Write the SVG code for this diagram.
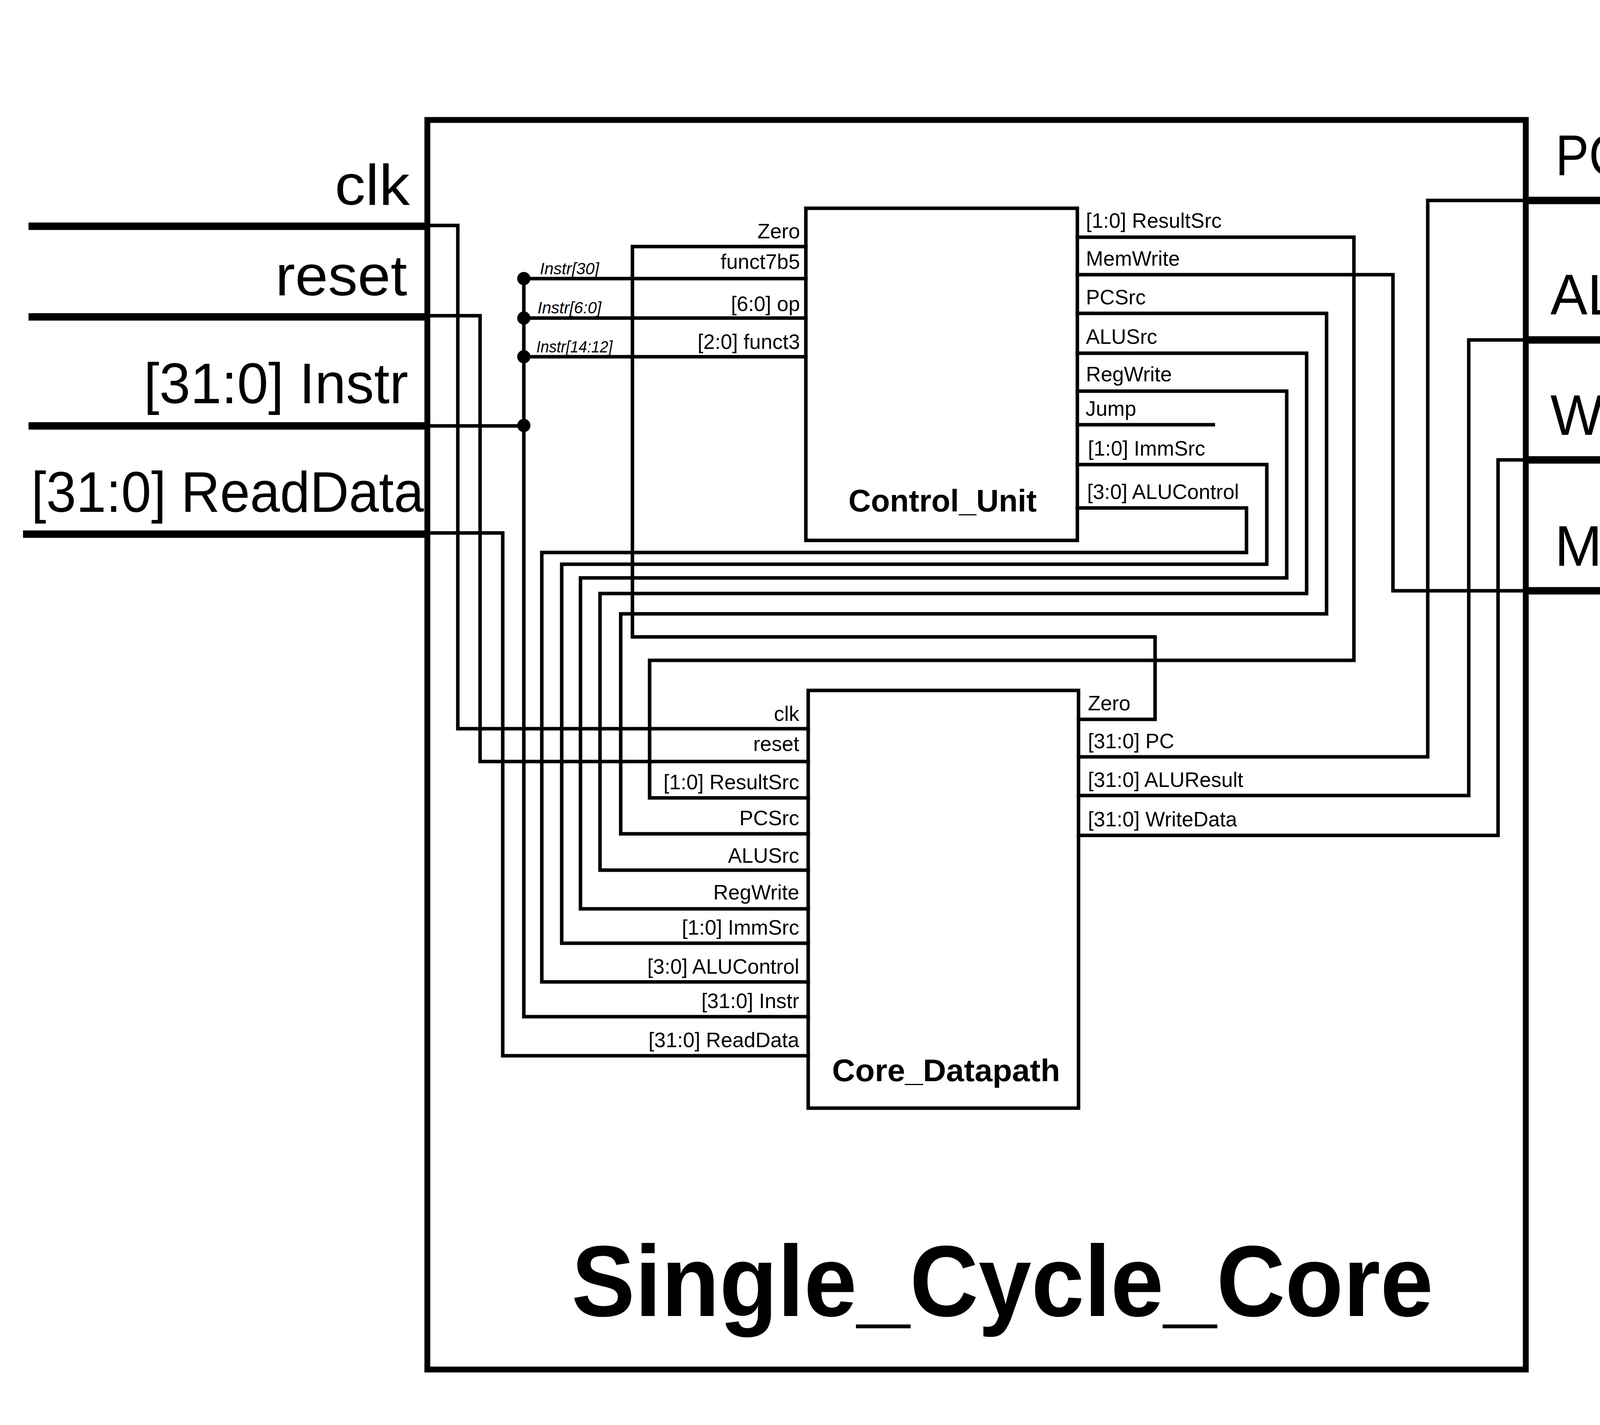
<svg xmlns="http://www.w3.org/2000/svg" width="5173" height="3647" viewBox="0 0 5173 3647">
<style>
.w{fill:none;stroke:#000;stroke-width:9;stroke-linejoin:miter;stroke-linecap:square}
.io{fill:none;stroke:#000;stroke-width:19;stroke-linecap:butt}
.box{fill:none;stroke:#000;stroke-width:9}
.outer{fill:none;stroke:#000;stroke-width:15}
.big{font-family:"Liberation Sans",Arial,sans-serif;font-size:147px;fill:#000}
.lbl{font-family:"Liberation Sans",Arial,sans-serif;font-size:53px;fill:#000}
.it{font-family:"Liberation Sans",Arial,sans-serif;font-size:42px;font-style:italic;fill:#000}
.bold{font-family:"Liberation Sans",Arial,sans-serif;font-weight:bold;fill:#000}
.e{text-anchor:end}
</style>
<rect width="5173" height="3647" fill="#fff"/>

<g id="Single_Cycle_Core">
<rect class="outer" x="1094" y="307" width="2812" height="3198"/>
<text class="bold" x="1463" y="3368" font-size="258" textLength="2206" lengthAdjust="spacingAndGlyphs">Single_Cycle_Core</text>
</g>

<g id="ports_in">
<text class="big" x="857" y="524" textLength="192" lengthAdjust="spacingAndGlyphs">clk</text>
<text class="big" x="705" y="756" textLength="337" lengthAdjust="spacingAndGlyphs">reset</text>
<text class="big" x="368" y="1032" textLength="677" lengthAdjust="spacingAndGlyphs">[31:0] Instr</text>
<text class="big" x="80" y="1310" textLength="1005" lengthAdjust="spacingAndGlyphs">[31:0] ReadData</text>
</g>

<g id="ports_out">
<text class="big" x="3982" y="448" textLength="534" lengthAdjust="spacingAndGlyphs">PC [31:0]</text>
<text class="big" x="3969" y="805" textLength="1076" lengthAdjust="spacingAndGlyphs">ALUResult [31:0]</text>
<text class="big" x="3969" y="1113" textLength="1033" lengthAdjust="spacingAndGlyphs">WriteData [31:0]</text>
<text class="big" x="3980" y="1448" textLength="662" lengthAdjust="spacingAndGlyphs">MemWrite</text>
</g>

<g id="Control_Unit">
<rect class="box" x="2063" y="533" width="695" height="850"/>
<text class="bold" x="2172" y="1309" font-size="80" textLength="482" lengthAdjust="spacingAndGlyphs">Control_Unit</text>
<text class="lbl e" x="2048" y="610">Zero</text>
<text class="lbl e" x="2048" y="688">funct7b5</text>
<text class="lbl e" x="2048" y="796">[6:0] op</text>
<text class="lbl e" x="2048" y="893">[2:0] funct3</text>
<text class="lbl" x="2780" y="583">[1:0] ResultSrc</text>
<text class="lbl" x="2780" y="680">MemWrite</text>
<text class="lbl" x="2780" y="779">PCSrc</text>
<text class="lbl" x="2780" y="880">ALUSrc</text>
<text class="lbl" x="2780" y="976">RegWrite</text>
<text class="lbl" x="2779" y="1064">Jump</text>
<text class="lbl" x="2785" y="1166">[1:0] ImmSrc</text>
<text class="lbl" x="2783" y="1277">[3:0] ALUControl</text>
</g>

<g id="Core_Datapath">
<rect class="box" x="2069" y="1767" width="692" height="1069"/>
<text class="bold" x="2130" y="2767" font-size="80" textLength="584" lengthAdjust="spacingAndGlyphs">Core_Datapath</text>
<text class="lbl e" x="2046" y="1845">clk</text>
<text class="lbl e" x="2046" y="1922">reset</text>
<text class="lbl e" x="2046" y="2020">[1:0] ResultSrc</text>
<text class="lbl e" x="2046" y="2112">PCSrc</text>
<text class="lbl e" x="2046" y="2208">ALUSrc</text>
<text class="lbl e" x="2046" y="2302">RegWrite</text>
<text class="lbl e" x="2046" y="2392">[1:0] ImmSrc</text>
<text class="lbl e" x="2046" y="2492">[3:0] ALUControl</text>
<text class="lbl e" x="2046" y="2580">[31:0] Instr</text>
<text class="lbl e" x="2046" y="2680">[31:0] ReadData</text>
<text class="lbl" x="2785" y="1818">Zero</text>
<text class="lbl" x="2785" y="1915">[31:0] PC</text>
<text class="lbl" x="2785" y="2014">[31:0] ALUResult</text>
<text class="lbl" x="2785" y="2115">[31:0] WriteData</text>
</g>

<g id="connectors">
<path class="io" d="M73 579H1094M73 811H1094M73 1090H1094M59 1367H1094"/>
<path class="io" d="M3906 513H5090M3906 870H5090M3906 1177H5090M3906 1512H5090"/>
<path class="w" d="M1094 577H1172V1865H2069"/>
<path class="w" d="M1094 808H1229V1949H2069"/>
<path class="w" d="M1094 1090H1341"/>
<path class="w" d="M1341 713V2602H2069"/>
<path class="w" d="M1094 1364H1287V2702H2069"/>
<path class="w" d="M1341 713H2063"/>
<path class="w" d="M1341 814H2063"/>
<path class="w" d="M1341 913H2063"/>
<path class="w" d="M2063 631H1619V1630H2957V1841H2761"/>
<path class="w" d="M2758 607H3466V1690H1663V2042H2069"/>
<path class="w" d="M2758 703H3566V1512H3906"/>
<path class="w" d="M2758 802H3396V1571H1589V2134H2069"/>
<path class="w" d="M2758 904H3345V1519H1536V2227H2069"/>
<path class="w" d="M2758 1001H3294V1479H1486V2326H2069"/>
<path class="w" d="M2758 1087H3106"/>
<path class="w" d="M2758 1189H3243V1444H1438V2414H2069"/>
<path class="w" d="M2758 1300H3191V1414H1387V2513H2069"/>
<path class="w" d="M2761 1937H3655V513H3906"/>
<path class="w" d="M2761 2036H3760V870H3906"/>
<path class="w" d="M2761 2138H3835V1177H3906"/>
<g fill="#000">
<circle cx="1341" cy="713" r="17"/>
<circle cx="1341" cy="814" r="17"/>
<circle cx="1341" cy="913" r="17"/>
<circle cx="1341" cy="1089" r="17"/>
</g>
<text class="it" x="1382" y="702">Instr[30]</text>
<text class="it" x="1376" y="802">Instr[6:0]</text>
<text class="it" x="1373" y="902" textLength="195" lengthAdjust="spacingAndGlyphs">Instr[14:12]</text>
</g>
</svg>
